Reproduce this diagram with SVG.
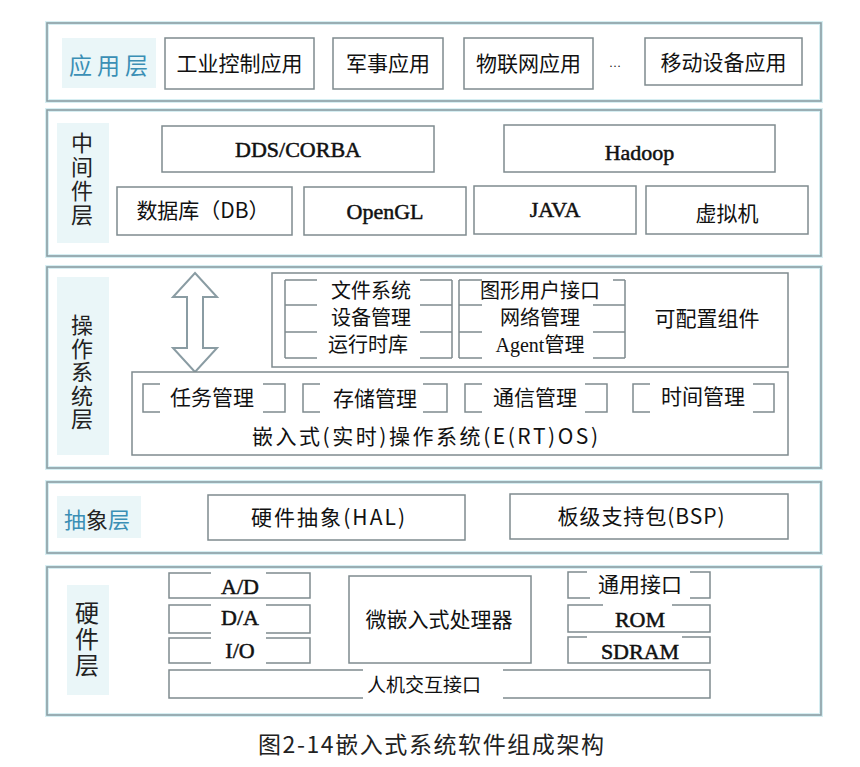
<svg xmlns="http://www.w3.org/2000/svg" width="860" height="767" viewBox="0 0 860 767">
<style>
.layer{fill:none;stroke:#8b9ea4;stroke-width:1.6}
.glow{fill:none;stroke:#d6eef2;stroke-width:4}
.lbg{fill:#eaf6f8;stroke:none}
.box{fill:#fff;stroke:#7f8b8f;stroke-width:1.5}
.ln{fill:none;stroke:#7f8b8f;stroke-width:1.5}
.t{font-family:"Liberation Serif","Noto Sans CJK SC",serif;font-size:22px;fill:#111;text-anchor:middle}
.b{stroke:#111;stroke-width:0.5}
.c{font-family:"Noto Sans CJK SC","Liberation Sans",sans-serif;font-size:21px;fill:#111;text-anchor:middle}
.s{font-size:20px}
.lab{font-family:"Noto Sans CJK SC",sans-serif;font-size:22px;fill:#222;text-anchor:middle}
.v{font-family:"Noto Sans CJK SC",sans-serif;font-size:22px;fill:#222;writing-mode:vertical-rl;text-anchor:start}
.teal{fill:#3b8fb5}
</style>
<rect width="860" height="767" fill="#fff"/>

<g id="layers">
<rect class="glow" x="47" y="23" width="774" height="78"/>
<rect class="layer" x="47" y="23" width="774" height="78"/>
<rect class="glow" x="47" y="110" width="774" height="146"/>
<rect class="layer" x="47" y="110" width="774" height="146"/>
<rect class="glow" x="47" y="267" width="774" height="201"/>
<rect class="layer" x="47" y="267" width="774" height="201"/>
<rect class="glow" x="47" y="482" width="774" height="71"/>
<rect class="layer" x="47" y="482" width="774" height="71"/>
<rect class="glow" x="47" y="567" width="774" height="148"/>
<rect class="layer" x="47" y="567" width="774" height="148"/>
<rect class="lbg" x="62" y="38" width="94" height="50"/>
<rect class="lbg" x="57" y="123" width="52" height="120"/>
<rect class="lbg" x="57" y="277" width="52" height="178"/>
<rect class="lbg" x="57" y="496" width="84" height="42"/>
<rect class="lbg" x="67" y="585" width="42" height="110"/>
</g>

<g id="app-layer">
<text class="lab teal" x="111" y="74" letter-spacing="5" style="font-size:23px">应用层</text>
<g id="app1"><rect class="box" x="165" y="38" width="149" height="51"/><text class="c" x="239.5" y="71">工业控制应用</text></g>
<g id="app2"><rect class="box" x="333" y="38" width="110" height="51"/><text class="c" x="388" y="71">军事应用</text></g>
<g id="app3"><rect class="box" x="464" y="38" width="129" height="51"/><text class="c" x="528.5" y="71">物联网应用</text></g>
<text class="t" x="615" y="67" style="font-size:12px">…</text>
<g id="app4"><rect class="box" x="645" y="38" width="157" height="47"/><text class="c" x="723.5" y="70">移动设备应用</text></g>
</g>

<g id="middleware-layer">
<text class="v" x="82" y="132" letter-spacing="2">中间件层</text>
<g id="dds"><rect class="box" x="162" y="126" width="272" height="46"/><text class="t b" x="298" y="157">DDS/CORBA</text></g>
<g id="hadoop"><rect class="box" x="504" y="125" width="271" height="47"/><text class="t b" x="639.5" y="160">Hadoop</text></g>
<g id="db"><rect class="box" x="117" y="187" width="175" height="48"/><text class="c" x="203" y="218">数据库（DB）</text></g>
<g id="opengl"><rect class="box" x="304" y="187" width="162" height="48"/><text class="t b" x="385" y="219">OpenGL</text></g>
<g id="java"><rect class="box" x="474" y="186" width="162" height="48"/><text class="t b" x="555" y="217">JAVA</text></g>
<g id="vm"><rect class="box" x="646" y="186" width="162" height="48"/><text class="c" x="727" y="221">虚拟机</text></g>
</g>

<g id="os-layer">
<text class="v" x="82" y="314" letter-spacing="1.5">操作系统层</text>
</g>

<g id="connectors">
<polygon points="195,273 217,297 203,297 203,348 217,348 195,372 173,348 187,348 187,297 173,297" fill="#fff" stroke="#8a9ca3" stroke-width="2"/>
</g>

<g id="configurable">
<rect class="box" x="272" y="273" width="516" height="94"/>
<path class="ln" d="M285 280V358 M452 280V358 M459 280V358 M625 280V358
M285 280H317 M285 305H317 M285 332H317 M285 358H317
M420 280H452 M420 305H452 M420 332H452 M420 358H452
M459 280H482 M459 305H482 M459 332H482 M459 358H482
M613 280H625 M593 305H625 M593 332H625 M593 358H625"/>
<text class="c s" x="371" y="298">文件系统</text>
<text class="c s" x="371" y="325">设备管理</text>
<text class="c s" x="368" y="352">运行时库</text>
<text class="c s" x="540" y="298">图形用户接口</text>
<text class="c s" x="540" y="325">网络管理</text>
<text class="c s" x="540" y="352"><tspan font-family="Liberation Serif">Agent</tspan>管理</text>
<text class="c" x="707" y="326">可配置组件</text>
</g>

<g id="ertos">
<rect class="box" x="132" y="372" width="656" height="83"/>
<path class="ln" d="M160 384H143V412H160 M263 384H285V412H263
M320 384H303V412H320 M423 384H447V412H423
M482 384H465V412H482 M585 384H607V412H585
M650 384H633V412H650 M753 384H774V412H753"/>
<text class="c" x="212" y="405">任务管理</text>
<text class="c" x="375" y="406">存储管理</text>
<text class="c" x="535" y="405">通信管理</text>
<text class="c" x="703" y="404">时间管理</text>
<text class="c" x="425" y="444" textLength="346" lengthAdjust="spacing">嵌入式(实时)操作系统(E(RT)OS)</text>
</g>

<g id="abstraction-layer">
<text class="lab teal" x="97" y="528">抽<tspan fill="#222">象</tspan>层</text>
<g id="hal"><rect class="box" x="208" y="495" width="257" height="45"/><text class="c" x="328" y="525" textLength="154" lengthAdjust="spacing">硬件抽象(HAL)</text></g>
<g id="bsp"><rect class="box" x="510" y="494" width="278" height="45"/><text class="c" x="641" y="524" textLength="167" lengthAdjust="spacing">板级支持包(BSP)</text></g>
</g>

<g id="hardware-layer">
<text class="v" x="87" y="601" letter-spacing="2" style="font-size:24px">硬件层</text>
<g id="io-stack">
<path class="ln" d="M211 573H169V598H310V573H266
M211 605H169V633H211 M266 605H310V633H266
M211 638H169V663H211 M266 638H310V663H266"/>
<text class="t b" x="240" y="594">A/D</text>
<text class="t b" x="240" y="625">D/A</text>
<text class="t b" x="240" y="658">I/O</text>
</g>
<g id="cpu"><rect class="box" x="349" y="576" width="182" height="87"/><text class="c" x="439" y="627">微嵌入式处理器</text></g>
<g id="hmi">
<path class="ln" d="M363 670H169V698H363 M503 670H710V698H503"/>
<text class="c" x="424" y="692" style="font-size:19px">人机交互接口</text>
</g>
<g id="mem-stack">
<path class="ln" d="M587 572H568V598H590 M690 572H710V598H690
M603 605H568V632H710V605H672
M587 637H568V663H710V637H682"/>
<text class="c" x="640" y="592">通用接口</text>
<text class="t b" x="640" y="627">ROM</text>
<text class="t b" x="640" y="659">SDRAM</text>
</g>
</g>

<text class="c" x="431" y="753" style="font-size:23px;fill:#222" textLength="346" lengthAdjust="spacing">图2-14嵌入式系统软件组成架构</text>
</svg>
